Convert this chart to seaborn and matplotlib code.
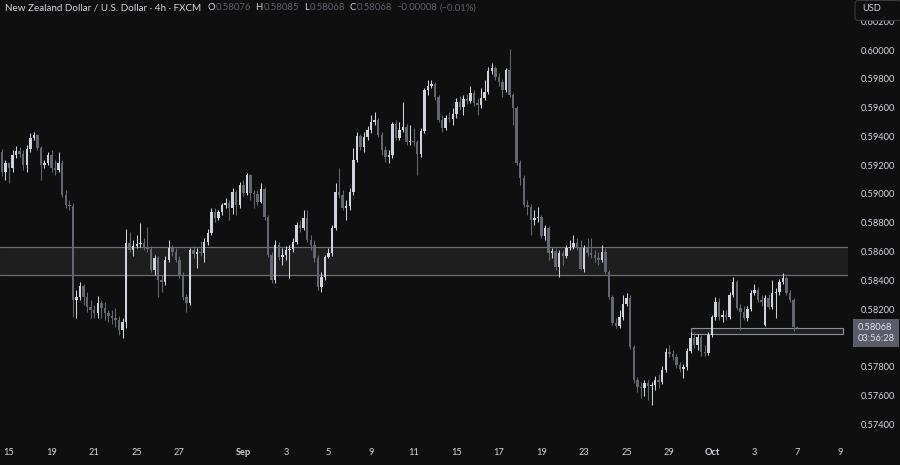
import numpy as np
import pandas as pd
import matplotlib
matplotlib.use("Agg")
import matplotlib.pyplot as plt
import matplotlib.transforms as mtransforms
from matplotlib.patches import Rectangle, FancyBboxPatch
import seaborn as sns

# NZD/USD 4h candles (FXCM)
opens = [
    0.59292, 0.59153, 0.59215, 0.59180, 0.59271, 0.59299, 0.59278, 0.59201, 0.59312, 0.59389,
    0.59410, 0.59319, 0.59201, 0.59215, 0.59271, 0.59180, 0.59167, 0.59215, 0.58993, 0.58923,
    0.58916, 0.58263, 0.58284, 0.58360, 0.58284, 0.58214, 0.58194, 0.58173, 0.58242, 0.58207,
    0.58173, 0.58152, 0.58138, 0.58124, 0.58055, 0.58110, 0.58659, 0.58611, 0.58638, 0.58652,
    0.58659, 0.58631, 0.58617, 0.58472, 0.58555, 0.58402, 0.58388, 0.58541, 0.58624, 0.58597,
    0.58541, 0.58437, 0.58284, 0.58242, 0.58611, 0.58583, 0.58597, 0.58590, 0.58666, 0.58729,
    0.58875, 0.58833, 0.58875, 0.58923, 0.58937, 0.58902, 0.59014, 0.58923, 0.59062, 0.59007,
    0.59132, 0.59007, 0.59000, 0.58944, 0.59034, 0.58840, 0.58576, 0.58402, 0.58645, 0.58562,
    0.58576, 0.58611, 0.58617, 0.58666, 0.58784, 0.58763, 0.58833, 0.58680, 0.58645, 0.58555,
    0.58353, 0.58423, 0.58562, 0.58590, 0.58763, 0.59014, 0.58993, 0.58902, 0.58916, 0.59014,
    0.59236, 0.59403, 0.59326, 0.59396, 0.59445, 0.59500, 0.59514, 0.59410, 0.59306, 0.59257,
    0.59271, 0.59486, 0.59389, 0.59445, 0.59465, 0.59361, 0.59368, 0.59361, 0.59278, 0.59438,
    0.59723, 0.59750, 0.59764, 0.59674, 0.59514, 0.59458, 0.59528, 0.59521, 0.59556, 0.59639,
    0.59604, 0.59660, 0.59646, 0.59702, 0.59632, 0.59618, 0.59667, 0.59709, 0.59855, 0.59875,
    0.59813, 0.59778, 0.59723, 0.59862, 0.59688, 0.59597, 0.59215, 0.59111, 0.58923, 0.58909,
    0.58819, 0.58833, 0.58840, 0.58708, 0.58763, 0.58590, 0.58604, 0.58492, 0.58590, 0.58569,
    0.58624, 0.58631, 0.58659, 0.58631, 0.58478, 0.58624, 0.58590, 0.58576, 0.58555, 0.58541,
    0.58597, 0.58458, 0.58284, 0.58103, 0.58082, 0.58145, 0.58235, 0.58277, 0.57936, 0.57707,
    0.57658, 0.57651, 0.57686, 0.57665, 0.57672, 0.57707, 0.57693, 0.57777, 0.57902, 0.57888,
    0.57867, 0.57811, 0.57783, 0.57797, 0.57909, 0.57999, 0.57950, 0.58006, 0.57902, 0.57895,
    0.58020, 0.58145, 0.58249, 0.58145, 0.58159, 0.58145, 0.58298, 0.58388, 0.58207, 0.58180,
    0.58138, 0.58200, 0.58312, 0.58333, 0.58263, 0.58089, 0.58277, 0.58214, 0.58312, 0.58319,
    0.58388, 0.58416, 0.58312, 0.58263, 0.58076,
]
highs = [
    0.59312, 0.59236, 0.59222, 0.59306, 0.59333, 0.59326, 0.59306, 0.59340, 0.59424, 0.59431,
    0.59417, 0.59333, 0.59236, 0.59292, 0.59306, 0.59236, 0.59292, 0.59236, 0.59028, 0.58958,
    0.58937, 0.58333, 0.58388, 0.58374, 0.58319, 0.58263, 0.58228, 0.58291, 0.58263, 0.58249,
    0.58194, 0.58194, 0.58207, 0.58152, 0.58138, 0.58756, 0.58736, 0.58680, 0.58715, 0.58798,
    0.58694, 0.58770, 0.58638, 0.58576, 0.58569, 0.58437, 0.58569, 0.58680, 0.58645, 0.58624,
    0.58569, 0.58458, 0.58305, 0.58624, 0.58638, 0.58624, 0.58673, 0.58694, 0.58756, 0.58902,
    0.58902, 0.58889, 0.58937, 0.58972, 0.58958, 0.59041, 0.59028, 0.59083, 0.59097, 0.59146,
    0.59139, 0.59028, 0.59028, 0.59076, 0.59048, 0.58854, 0.58597, 0.58680, 0.58666, 0.58624,
    0.58638, 0.58645, 0.58694, 0.58805, 0.58819, 0.58889, 0.58889, 0.58715, 0.58680, 0.58576,
    0.58458, 0.58576, 0.58624, 0.58784, 0.59076, 0.59180, 0.59028, 0.58958, 0.59041, 0.59319,
    0.59431, 0.59417, 0.59431, 0.59472, 0.59549, 0.59570, 0.59528, 0.59431, 0.59333, 0.59306,
    0.59500, 0.59514, 0.59500, 0.59639, 0.59486, 0.59479, 0.59458, 0.59375, 0.59458, 0.59736,
    0.59792, 0.59792, 0.59778, 0.59688, 0.59549, 0.59549, 0.59570, 0.59597, 0.59667, 0.59681,
    0.59688, 0.59695, 0.59750, 0.59723, 0.59667, 0.59736, 0.59792, 0.59882, 0.59910, 0.59889,
    0.59841, 0.59799, 0.59875, 0.60007, 0.59702, 0.59611, 0.59236, 0.59132, 0.58958, 0.58930,
    0.58889, 0.58909, 0.58854, 0.58784, 0.58777, 0.58624, 0.58624, 0.58611, 0.58611, 0.58645,
    0.58680, 0.58715, 0.58694, 0.58680, 0.58645, 0.58694, 0.58694, 0.58611, 0.58597, 0.58645,
    0.58624, 0.58472, 0.58298, 0.58138, 0.58194, 0.58298, 0.58312, 0.58298, 0.57950, 0.57728,
    0.57693, 0.57707, 0.57707, 0.57693, 0.57735, 0.57749, 0.57804, 0.57929, 0.57950, 0.57916,
    0.57888, 0.57832, 0.57818, 0.57929, 0.58041, 0.58041, 0.58027, 0.58020, 0.57950, 0.58041,
    0.58159, 0.58284, 0.58277, 0.58194, 0.58194, 0.58319, 0.58423, 0.58402, 0.58235, 0.58221,
    0.58221, 0.58333, 0.58374, 0.58353, 0.58298, 0.58298, 0.58305, 0.58402, 0.58346, 0.58409,
    0.58451, 0.58430, 0.58333, 0.58277, 0.58085,
]
lows = [
    0.59125, 0.59097, 0.59076, 0.59153, 0.59250, 0.59257, 0.59167, 0.59153, 0.59292, 0.59375,
    0.59306, 0.59097, 0.59180, 0.59201, 0.59153, 0.59132, 0.59153, 0.58979, 0.58902, 0.58889,
    0.58145, 0.58138, 0.58263, 0.58228, 0.58180, 0.58138, 0.58138, 0.58138, 0.58138, 0.58124,
    0.58110, 0.58096, 0.58075, 0.58020, 0.57999, 0.58068, 0.58597, 0.58569, 0.58624, 0.58631,
    0.58611, 0.58597, 0.58458, 0.58437, 0.58284, 0.58319, 0.58367, 0.58527, 0.58569, 0.58527,
    0.58416, 0.58263, 0.58180, 0.58228, 0.58555, 0.58485, 0.58569, 0.58527, 0.58645, 0.58715,
    0.58805, 0.58819, 0.58854, 0.58902, 0.58819, 0.58861, 0.58854, 0.58902, 0.58986, 0.58993,
    0.58958, 0.58902, 0.58923, 0.58937, 0.58819, 0.58562, 0.58381, 0.58381, 0.58541, 0.58506,
    0.58541, 0.58416, 0.58597, 0.58652, 0.58736, 0.58750, 0.58666, 0.58611, 0.58527, 0.58333,
    0.58319, 0.58402, 0.58555, 0.58569, 0.58750, 0.58972, 0.58889, 0.58819, 0.58889, 0.58993,
    0.59222, 0.59306, 0.59292, 0.59375, 0.59424, 0.59479, 0.59396, 0.59271, 0.59222, 0.59215,
    0.59250, 0.59375, 0.59375, 0.59431, 0.59340, 0.59340, 0.59333, 0.59132, 0.59257, 0.59424,
    0.59688, 0.59736, 0.59653, 0.59500, 0.59431, 0.59445, 0.59500, 0.59479, 0.59528, 0.59584,
    0.59549, 0.59625, 0.59632, 0.59611, 0.59549, 0.59597, 0.59653, 0.59695, 0.59834, 0.59792,
    0.59750, 0.59674, 0.59709, 0.59674, 0.59479, 0.59201, 0.59062, 0.58909, 0.58854, 0.58715,
    0.58784, 0.58805, 0.58694, 0.58680, 0.58541, 0.58555, 0.58472, 0.58423, 0.58506, 0.58555,
    0.58611, 0.58617, 0.58611, 0.58472, 0.58458, 0.58569, 0.58555, 0.58527, 0.58506, 0.58527,
    0.58444, 0.58270, 0.58089, 0.58068, 0.58068, 0.58124, 0.58221, 0.57922, 0.57686, 0.57624,
    0.57582, 0.57596, 0.57568, 0.57533, 0.57638, 0.57651, 0.57679, 0.57763, 0.57867, 0.57846,
    0.57790, 0.57763, 0.57721, 0.57777, 0.57895, 0.57929, 0.57916, 0.57874, 0.57874, 0.57881,
    0.58006, 0.58124, 0.58124, 0.58110, 0.58124, 0.58131, 0.58284, 0.58194, 0.58055, 0.58124,
    0.58117, 0.58187, 0.58298, 0.58249, 0.58221, 0.58082, 0.58200, 0.58200, 0.58138, 0.58298,
    0.58374, 0.58298, 0.58249, 0.58050, 0.58068,
]
closes = [
    0.59153, 0.59215, 0.59180, 0.59271, 0.59299, 0.59278, 0.59201, 0.59312, 0.59389, 0.59410,
    0.59319, 0.59201, 0.59215, 0.59271, 0.59180, 0.59167, 0.59215, 0.58993, 0.58923, 0.58916,
    0.58263, 0.58284, 0.58360, 0.58284, 0.58214, 0.58194, 0.58173, 0.58242, 0.58207, 0.58173,
    0.58152, 0.58138, 0.58124, 0.58055, 0.58110, 0.58659, 0.58611, 0.58638, 0.58652, 0.58659,
    0.58631, 0.58617, 0.58472, 0.58555, 0.58402, 0.58388, 0.58541, 0.58624, 0.58597, 0.58541,
    0.58437, 0.58284, 0.58242, 0.58611, 0.58583, 0.58597, 0.58590, 0.58666, 0.58729, 0.58875,
    0.58833, 0.58875, 0.58923, 0.58937, 0.58902, 0.59014, 0.58923, 0.59062, 0.59007, 0.59132,
    0.59007, 0.59000, 0.58944, 0.59034, 0.58840, 0.58576, 0.58402, 0.58645, 0.58562, 0.58576,
    0.58611, 0.58617, 0.58666, 0.58784, 0.58763, 0.58833, 0.58680, 0.58645, 0.58555, 0.58353,
    0.58423, 0.58562, 0.58590, 0.58763, 0.59014, 0.58993, 0.58902, 0.58916, 0.59014, 0.59236,
    0.59403, 0.59326, 0.59396, 0.59445, 0.59500, 0.59514, 0.59410, 0.59306, 0.59257, 0.59271,
    0.59486, 0.59389, 0.59445, 0.59465, 0.59361, 0.59368, 0.59361, 0.59278, 0.59438, 0.59723,
    0.59750, 0.59764, 0.59674, 0.59514, 0.59458, 0.59528, 0.59521, 0.59556, 0.59639, 0.59604,
    0.59660, 0.59646, 0.59702, 0.59632, 0.59618, 0.59667, 0.59709, 0.59855, 0.59875, 0.59813,
    0.59778, 0.59723, 0.59862, 0.59688, 0.59597, 0.59215, 0.59111, 0.58923, 0.58909, 0.58819,
    0.58833, 0.58840, 0.58708, 0.58763, 0.58590, 0.58604, 0.58492, 0.58590, 0.58569, 0.58624,
    0.58631, 0.58659, 0.58631, 0.58478, 0.58624, 0.58590, 0.58576, 0.58555, 0.58541, 0.58597,
    0.58458, 0.58284, 0.58103, 0.58082, 0.58145, 0.58235, 0.58277, 0.57936, 0.57707, 0.57658,
    0.57651, 0.57686, 0.57665, 0.57672, 0.57707, 0.57693, 0.57777, 0.57902, 0.57888, 0.57867,
    0.57811, 0.57783, 0.57797, 0.57909, 0.57999, 0.57950, 0.58006, 0.57902, 0.57895, 0.58020,
    0.58145, 0.58249, 0.58145, 0.58159, 0.58145, 0.58298, 0.58388, 0.58207, 0.58180, 0.58138,
    0.58200, 0.58312, 0.58333, 0.58263, 0.58249, 0.58277, 0.58214, 0.58312, 0.58319, 0.58388,
    0.58416, 0.58312, 0.58263, 0.58076, 0.58068,
]

# first 4h bar of each labelled day (6 bars per trading day)
day_ticks = [2, 14, 26, 38, 50, 68, 80, 92, 104, 116, 128, 140, 152, 164, 176, 188, 200, 212, 224, 236]
day_labels = ["15", "19", "21", "25", "27", "Sep", "3", "5", "9", "11",
              "15", "17", "19", "23", "25", "29", "Oct", "3", "7", "9"]
month_labels = ["Sep", "Oct"]

price_ticks = [0.574, 0.576, 0.578, 0.580, 0.582, 0.584, 0.586, 0.588,
               0.590, 0.592, 0.594, 0.596, 0.598, 0.600, 0.602]

# drawn zones
zone_low, zone_high = 0.58439, 0.58631
box_low, box_high = 0.58025, 0.58071
box_start, box_end = 194.1, 236.9

countdown = "03:56:28"
title = "New Zealand Dollar / U.S. Dollar \u00b7 4h \u00b7 FXCM"

BG = "#0f0f0f"
UP = "#d1d4dc"
DOWN = "#64676f"
TXT = "#d1d4dc"

sns.set_theme(style="dark", rc={
    "axes.facecolor": BG,
    "figure.facecolor": BG,
    "savefig.facecolor": BG,
    "axes.edgecolor": BG,
})
plt.rcParams["font.family"] = ["Lato", "DejaVu Sans"]

df = pd.DataFrame({"open": opens, "high": highs, "low": lows, "close": closes})
df["idx"] = np.arange(len(df))
df["up"] = df["close"] >= df["open"]
df["color"] = np.where(df["up"], UP, DOWN)
df["body_lo"] = df[["open", "close"]].min(axis=1)
df["body_h"] = (df["close"] - df["open"]).abs().clip(lower=0.00007)

fig = plt.figure(figsize=(9, 4.65), dpi=100)
ax = fig.add_axes([0, 25 / 465, 848 / 900, 440 / 465])
ax.set_xlim(-0.535, 238.34)
ax.set_ylim(0.57290, 0.60348)

# support / resistance zone
ax.axhspan(zone_low, zone_high, facecolor="#1e1e1f", edgecolor="none", zorder=1)
for lvl in (zone_low, zone_high):
    ax.axhline(lvl, color="#6c6d72", lw=0.9, zorder=1.5)

# small box under the last price
ax.add_patch(Rectangle((box_start, box_low), box_end - box_start, box_high - box_low,
                       facecolor="#1f1f21", edgecolor="#8c8f98", lw=0.8, zorder=1.6))

# candles
ax.vlines(df["idx"], df["low"], df["high"], colors=df["color"], lw=0.75, zorder=2)
ax.bar(df["idx"], df["body_h"], bottom=df["body_lo"], width=0.7,
       color=df["color"], linewidth=0, zorder=3)

# price scale on the right (labels hidden where the last-price tag sits)
last = closes[-1]
shown = [p for p in price_ticks if abs(p - last) > 0.0012]
ax.yaxis.tick_right()
ax.set_yticks(shown)
ax.set_yticklabels([f"{p:.5f}" for p in shown])
ax.tick_params(axis="y", length=0, pad=9.5, labelsize=6.7, colors=TXT)

# time scale
ax.set_xticks(day_ticks)
ax.set_xticklabels(day_labels)
ax.tick_params(axis="x", length=0, pad=5.5, labelsize=6.7, colors=TXT)
for lab in ax.get_xticklabels():
    if lab.get_text() in month_labels:
        lab.set_fontweight("bold")
ax.grid(False)
sns.despine(ax=ax, left=True, right=True, top=True, bottom=True)

# last price label with countdown
trans = mtransforms.blended_transform_factory(fig.transFigure, ax.transData)
ax.annotate(f"{last:.5f}\n{countdown}", xy=(857.5 / 900, last), xycoords=trans,
            xytext=(0, 5), textcoords="offset pixels", ha="left", va="top",
            fontsize=6.7, color="#e3e5ea", linespacing=1.3, annotation_clip=False,
            bbox=dict(boxstyle="square,pad=0.45", fc="#5a5d69", ec="none"), zorder=10)

# currency box top right (display pixels, origin bottom-left); it half-covers the top tick
fig.patches.append(FancyBboxPatch((855, 465 - 20.5), 46, 20, boxstyle="round,pad=0,rounding_size=3",
                                  transform=None, facecolor=BG, edgecolor="#3a3b40", lw=0.8,
                                  figure=fig, zorder=5))
fig.text(862 / 900, 1 - 8.5 / 465, "USD", fontsize=6.7, color=TXT, ha="left", va="center", zorder=6)

# header legend: symbol + OHLC of the last bar
chg = closes[-1] - closes[-2]
pct = chg / closes[-2] * 100
vals = "#5d606b"
parts = [
    (title, TXT, 7.1, 6),
    ("O", TXT, 6.8, 0.5), (f"{opens[-1]:.5f}", vals, 6.8, 5),
    ("H", TXT, 6.8, 0.5), (f"{highs[-1]:.5f}", vals, 6.8, 5),
    ("L", TXT, 6.8, 0.5), (f"{lows[-1]:.5f}", vals, 6.8, 5),
    ("C", TXT, 6.8, 0.5), (f"{closes[-1]:.5f}", vals, 6.8, 4),
    (f"{chg:.5f}".replace("-", "\u2212"), vals, 6.8, 3),
    (f"({pct:.2f}%)".replace("-", "\u2212"), vals, 6.8, 0),
]
renderer = fig.canvas.get_renderer()
x = 5
for txt, col, size, gap in parts:
    t = fig.text(x / 900, 1 - 8 / 465, txt, fontsize=size, color=col, ha="left", va="center")
    x = t.get_window_extent(renderer).x1 + gap

fig.savefig("out.png", dpi=100, facecolor=BG)
